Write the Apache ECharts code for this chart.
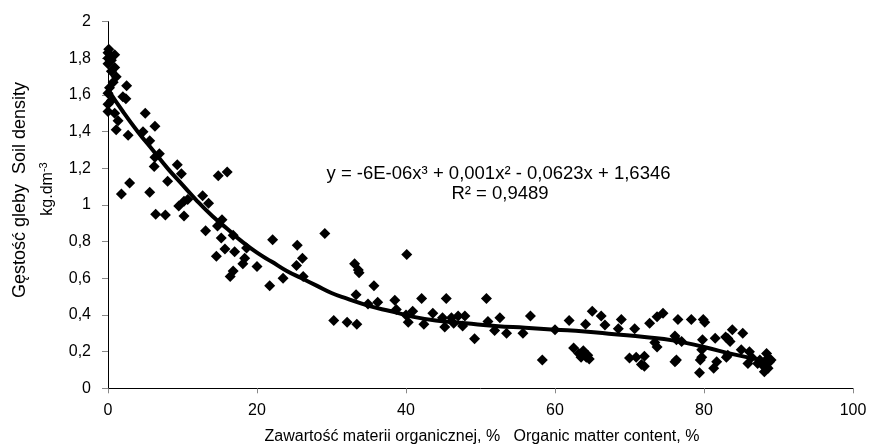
<!DOCTYPE html>
<html>
<head>
<meta charset="utf-8">
<script src="https://cdn.jsdelivr.net/npm/echarts@6/dist/echarts.min.js"></script>
<style>html,body{margin:0;padding:0;background:#fff}#c{width:870px;height:447px}</style>
</head>
<body>
<div id="c"></div>
<script>
// Measured points: [organic matter %, soil density kg/dm3]
const samples = [
[0.1,1.85],[0,1.83],[0.9,1.82],[0,1.80],[0.45,1.79],[0,1.77],[0.9,1.75],[0.45,1.73],[1.1,1.70],[0.7,1.67],
[2.5,1.65],[0.2,1.64],[0,1.61],[2.0,1.59],[2.4,1.58],[0.45,1.57],[0,1.55],[0,1.51],[0.9,1.50],[5.0,1.50],
[1.35,1.46],[6.3,1.43],[1.1,1.41],[4.7,1.40],[2.7,1.38],[5.6,1.35],
[6.9,1.28],[6.3,1.26],[6.2,1.21],[9.3,1.22],[9.85,1.17],[8.0,1.13],[14.8,1.16],[16.0,1.18],[2.9,1.12],[1.8,1.06],
[5.6,1.07],[12.7,1.05],[13.5,1.01],[10.2,1.02],[10.7,1.03],[9.5,0.995],[6.4,0.95],[7.7,0.945],[10.2,0.94],[15.3,0.92],
[14.7,0.885],[13.1,0.86],[15.2,0.82],[16.8,0.835],[22.1,0.81],[29.1,0.845],[25.4,0.78],[26.1,0.71],[15.7,0.76],[17.0,0.745],
[14.55,0.72],[18.6,0.765],[18.35,0.71],[18.1,0.68],[20.0,0.665],[25.3,0.67],[16.8,0.64],[16.4,0.61],[23.5,0.60],[21.7,0.56],[26.2,0.61],
[33.1,0.68],[33.6,0.645],[33.7,0.63],[40.1,0.73],[35.7,0.56],[33.3,0.51],[38.5,0.48],[42.1,0.49],[45.4,0.49],[50.8,0.49],
[36.2,0.47],[34.9,0.46],[30.3,0.37],[32.1,0.36],[33.4,0.35],[38.7,0.43],[40.9,0.42],[40.0,0.40],[40.3,0.36],[43.6,0.41],
[42.4,0.35],[44.9,0.385],[45.2,0.335],[46.1,0.385],[47.0,0.395],[47.9,0.395],[46.4,0.355],[47.6,0.34],[49.2,0.27],[51.0,0.365],
[52.6,0.385],[51.9,0.315],[53.5,0.30],[55.7,0.30],[56.7,0.395],[58.3,0.155],[60.0,0.32],[61.9,0.37],[62.5,0.22],[63.2,0.19],
[63.8,0.205],[64.2,0.17],[63.5,0.17],[64.6,0.16],[64.4,0.18],
[65.0,0.42],[66.2,0.395],[64.1,0.35],[66.7,0.345],[68.9,0.375],[68.5,0.325],[70.7,0.325],[72.7,0.355],[73.7,0.39],[74.5,0.41],
[70.0,0.165],[70.9,0.17],[72.0,0.175],[72.0,0.12],[71.6,0.13],[73.4,0.25],[73.7,0.225],[76.1,0.285],[76.3,0.265],[77.0,0.255],
[76.1,0.145],[76.3,0.155],[76.5,0.375],[78.3,0.375],[79.9,0.375],[80.1,0.36],[79.8,0.265],[79.7,0.21],[79.7,0.17],[79.5,0.155],
[79.4,0.085],[81.5,0.273],[81.7,0.145],[81.3,0.11],[82.9,0.28],[83.2,0.272],[83.5,0.255],[83.8,0.32],[85.2,0.30],[83.0,0.17],
[83.2,0.18],[85.0,0.21],[86.1,0.20],[85.9,0.135],[86.4,0.17],[87.2,0.135],[87.5,0.155],[87.9,0.125],[88.4,0.19],[88.6,0.165],
[88.8,0.145],[88.4,0.115],[88.1,0.09],[88.6,0.11],[89.0,0.155]
];
// Polynomial trend line
const trendX = [0,2,4,6,8,10,12,14,16,18,20,22,24,26,28,30,32,35,38,41,44,48,52,56,60,64,68,72,76,80,84,88.8];
const trendY = [1.63,1.51,1.40,1.30,1.20,1.11,1.02,0.94,0.87,0.80,0.74,0.69,0.64,0.60,0.56,0.52,0.49,0.45,0.42,0.39,0.37,0.355,0.34,0.33,0.32,0.31,0.295,0.28,0.26,0.225,0.185,0.145];
const xTicks = [0,20,40,60,80,100];
const yTicks = [0,0.2,0.4,0.6,0.8,1,1.2,1.4,1.6,1.8,2];
const equationText = 'y = -6E-06x³ + 0,001x² - 0,0623x + 1,6346';
const r2Text = 'R² = 0,9489';
const xTitle = 'Zawartość materii organicznej, %   Organic matter content, %';
const yTitle1 = 'Gęstość gleby  Soil density';
const yTitle2 = 'kg.dm';

const FONT = 'Liberation Sans, Arial, sans-serif';
const chart = echarts.init(document.getElementById('c'));
const fmt = v => String(Math.round(v * 10) / 10).replace('.', ',');
chart.setOption({
  animation: false,
  backgroundColor: '#fff',
  grid: { left: 108, right: 17, top: 21.7, bottom: 58.7 },
  xAxis: {
    type: 'value', min: xTicks[0], max: xTicks[xTicks.length - 1], interval: 20,
    axisLine: { lineStyle: { color: '#000', width: 1 } },
    axisTick: { length: 5, lineStyle: { color: '#888' } },
    splitLine: { show: false },
    axisLabel: { color: '#000', fontSize: 16, fontFamily: FONT, margin: 14, formatter: fmt }
  },
  yAxis: {
    type: 'value', min: yTicks[0], max: yTicks[yTicks.length - 1], interval: 0.2,
    axisLine: { show: true, lineStyle: { color: '#000', width: 1 } },
    axisTick: { show: true, length: 6, lineStyle: { color: '#888' } },
    splitLine: { show: false },
    axisLabel: { color: '#000', fontSize: 16, fontFamily: FONT, margin: 17, formatter: fmt }
  },
  series: [
    { type: 'scatter', data: samples, symbol: 'diamond', symbolSize: 11,
      itemStyle: { color: '#000', opacity: 1 }, z: 2 },
    { type: 'line', data: trendX.map((x, i) => [x, trendY[i]]), smooth: true, showSymbol: false,
      lineStyle: { color: '#000', width: 4 }, z: 3 }
  ],
  graphic: [
    { type: 'text', x: 498.5, y: 174, style: { text: equationText, font: '18.5px ' + FONT, fill: '#000', textAlign: 'center', textVerticalAlign: 'middle' } },
    { type: 'text', x: 500, y: 194, style: { text: r2Text, font: '18.5px ' + FONT, fill: '#000', textAlign: 'center', textVerticalAlign: 'middle' } },
    { type: 'text', x: 482, y: 437, style: { text: xTitle, font: '16px ' + FONT, fill: '#000', textAlign: 'center', textVerticalAlign: 'middle' } },
    { type: 'text', x: 20, y: 190, rotation: Math.PI / 2, style: { text: yTitle1, font: '18px ' + FONT, fill: '#000', textAlign: 'center', textVerticalAlign: 'middle' } },
    { type: 'text', x: 48, y: 189, rotation: Math.PI / 2, style: {
        text: yTitle2 + '{sup|-3}', font: '16px ' + FONT, fill: '#000', textAlign: 'center', textVerticalAlign: 'middle',
        rich: { sup: { fontSize: 11, fontFamily: FONT, fill: '#000', verticalAlign: 'top', lineHeight: 20 } } } }
  ]
});
</script>
</body>
</html>
